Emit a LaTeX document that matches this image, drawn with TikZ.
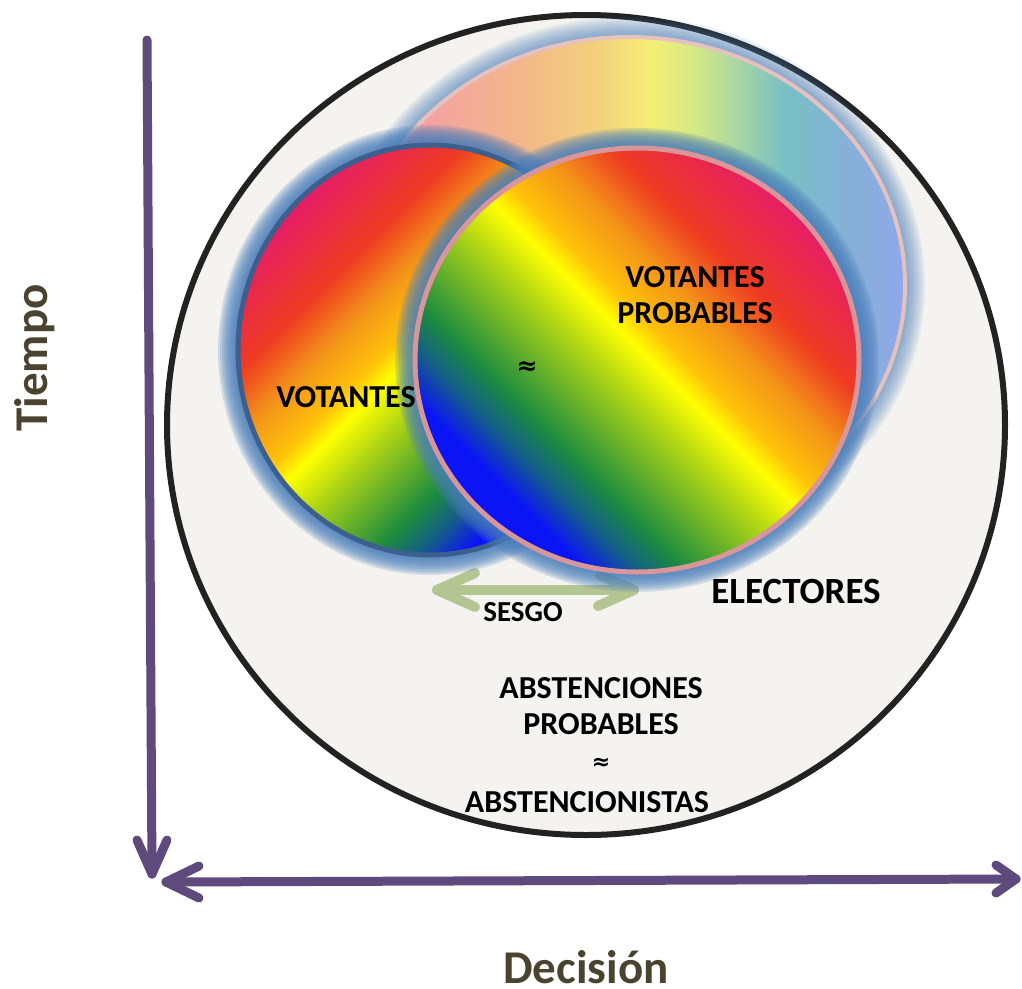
\documentclass[tikz,border=0pt]{standalone}
\usepackage{fontspec}
\setmainfont{Carlito}
\newfontfamily\symfont{DejaVu Sans}
\usetikzlibrary{calc}
\definecolor{axiscol}{HTML}{5E4A7C}
\definecolor{labelcol}{HTML}{4A4330}
\definecolor{bigfill}{HTML}{F4F3EF}
\definecolor{bigline}{HTML}{222222}
\definecolor{glowblue}{HTML}{4A7EBB}
\definecolor{leftline}{HTML}{3D5F8E}
\definecolor{rightline}{HTML}{D9969A}
\definecolor{fadeline}{HTML}{E5C2C0}
\definecolor{sesgocol}{HTML}{B5C493}
\definecolor{rbblue}{HTML}{0A14F5}
\definecolor{rbteal}{HTML}{155C8C}
\definecolor{rbgreen}{HTML}{1A8A40}
\definecolor{rblime}{HTML}{9CCB1A}
\definecolor{rbyellow}{HTML}{FFFF00}
\definecolor{rbgold}{HTML}{FFC20A}
\definecolor{rborange}{HTML}{F39418}
\definecolor{rbred}{HTML}{EE3B22}
\definecolor{rbmagenta}{HTML}{E61F63}
\definecolor{fdpink}{HTML}{F4A0A2}
\definecolor{fdpeach}{HTML}{F3B68A}
\definecolor{fdtan}{HTML}{F3D07C}
\definecolor{fdyellow}{HTML}{F4EF76}
\definecolor{fdlime}{HTML}{D4E984}
\definecolor{fdteal}{HTML}{78C0C4}
\definecolor{fdsky}{HTML}{86B0D8}
\definecolor{fdblue}{HTML}{8FA8E8}
\pgfdeclarehorizontalshading{rainbowsh}{100bp}{color(0bp)=(rbblue); color(34.6bp)=(rbblue); color(37.5bp)=(rbteal); color(40.3bp)=(rbgreen); color(46.4bp)=(rblime); color(50.8bp)=(rbyellow); color(52.8bp)=(rbgold); color(56.7bp)=(rborange); color(61bp)=(rbred); color(67.7bp)=(rbmagenta); color(100bp)=(rbmagenta)}
\pgfdeclarehorizontalshading{fadesh}{100bp}{color(0bp)=(fdpink); color(31bp)=(fdpink); color(40bp)=(fdpeach); color(47bp)=(fdtan); color(52bp)=(fdyellow); color(56bp)=(fdlime); color(64bp)=(fdteal); color(70bp)=(fdsky); color(75bp)=(fdblue); color(100bp)=(fdblue)}
\begin{document}
\begin{tikzpicture}[x=1pt,y=-1pt,
  axisline/.style={draw=axiscol, line width=9pt, line cap=round, line join=round},
  sesgoline/.style={draw=sesgocol, line width=10pt, line cap=round, line join=round},
  txt/.style={font=\bfseries\fontsize{32}{36}\selectfont, text=black, inner sep=0pt, align=center},
  axislabel/.style={font=\bfseries\fontsize{47}{50}\selectfont, text=labelcol, inner sep=0pt}
]
\useasboundingbox (0,0) rectangle (1022,988);
% named centres
\coordinate (cBig) at (586,425);
\coordinate (cFade) at (629,285);
\coordinate (cLeft) at (430,350);
\coordinate (cRight) at (637,360);
% electorate circle
\fill[bigfill] (cBig) ellipse [x radius=419, y radius=410];
\draw[bigline, line width=6pt] (cBig) ellipse [x radius=419, y radius=410];
% sesgo arrow
\coordinate (sL) at (437,590);
\coordinate (sR) at (634,590);
\draw[sesgoline] (sL) -- (sR);
\draw[sesgoline] ($(sL)+(38,-17)$) -- (sL) -- ($(sL)+(38,17)$);
\draw[sesgoline] ($(sR)+(-34,-15)$) -- (sR) -- ($(sR)+(-36,16)$);
% faded ellipse
\foreach \i in {1,...,10}
  \draw[glowblue, line width=\i*4pt, opacity=0.09] (cFade) ellipse [x radius=276, y radius=248];
\shade[shading=fadesh] (cFade) ellipse [x radius=276, y radius=248];
\draw[fadeline, line width=4pt] (cFade) ellipse [x radius=276, y radius=248];
% left circle
\foreach \i in {1,...,10}
  \draw[glowblue, line width=\i*4pt, opacity=0.2] (cLeft) ellipse [x radius=192, y radius=205];
\begin{scope}
  \clip (cLeft) ellipse [x radius=192, y radius=205];
  \begin{scope}[transform canvas={rotate around={135:(cLeft)}}]
    \shade[shading=rainbowsh] ($(cLeft)+(-273,-273)$) rectangle ($(cLeft)+(273,273)$);
  \end{scope}
\end{scope}
\draw[leftline, line width=5pt] (cLeft) ellipse [x radius=192, y radius=205];
% right circle
\foreach \i in {1,...,10}
  \draw[glowblue, line width=\i*4pt, opacity=0.2] (cRight) ellipse [x radius=222, y radius=212];
\begin{scope}
  \clip (cRight) ellipse [x radius=222, y radius=212];
  \begin{scope}[transform canvas={rotate around={45:(cRight)}}]
    \shade[shading=rainbowsh] ($(cRight)+(-300,-300)$) rectangle ($(cRight)+(300,300)$);
  \end{scope}
\end{scope}
\draw[rightline, line width=5pt] (cRight) ellipse [x radius=222, y radius=212];
% axes
\coordinate (vTop) at (147,40);
\coordinate (vTip) at (152,874);
\draw[axisline] (vTop) -- (vTip);
\draw[axisline] ($(vTip)+(-15,-34)$) -- (vTip) -- ($(vTip)+(15,-34)$);
\coordinate (hL) at (166,882);
\coordinate (hR) at (1016,879);
\draw[axisline] (hL) -- (hR);
\draw[axisline] ($(hL)+(33,-16)$) -- (hL) -- ($(hL)+(33,16)$);
\draw[axisline] ($(hR)+(-20,-14)$) -- (hR) -- ($(hR)+(-20,14)$);
% labels
\node[txt] (votantes) at (346,397) {VOTANTES};
\node[txt] (probables) at (695,295) {VOTANTES\\PROBABLES};
\node[txt, font=\symfont\bfseries\fontsize{25}{27}\selectfont] (approxA) at (527,368) {≈};
\node[txt, font=\bfseries\fontsize{37}{40}\selectfont] (electores) at (796,591) {ELECTORES};
\node[txt, font=\bfseries\fontsize{29}{32}\selectfont] (sesgo) at (523,612) {SESGO};
\node[txt] (abst1) at (601,688) {ABSTENCIONES};
\node[txt] (abst2) at (601,724) {PROBABLES};
\node[txt, font=\symfont\bfseries\fontsize{22}{24}\selectfont] (approxB) at (601,764) {≈};
\node[txt] (abst3) at (587,802) {ABSTENCIONISTAS};
\node[axislabel, rotate=90] (tiempo) at (35,358) {Tiempo};
\node[axislabel, anchor=base, text depth=0pt] (decision) at (586,983) {Decisión};
\end{tikzpicture}
\end{document}
